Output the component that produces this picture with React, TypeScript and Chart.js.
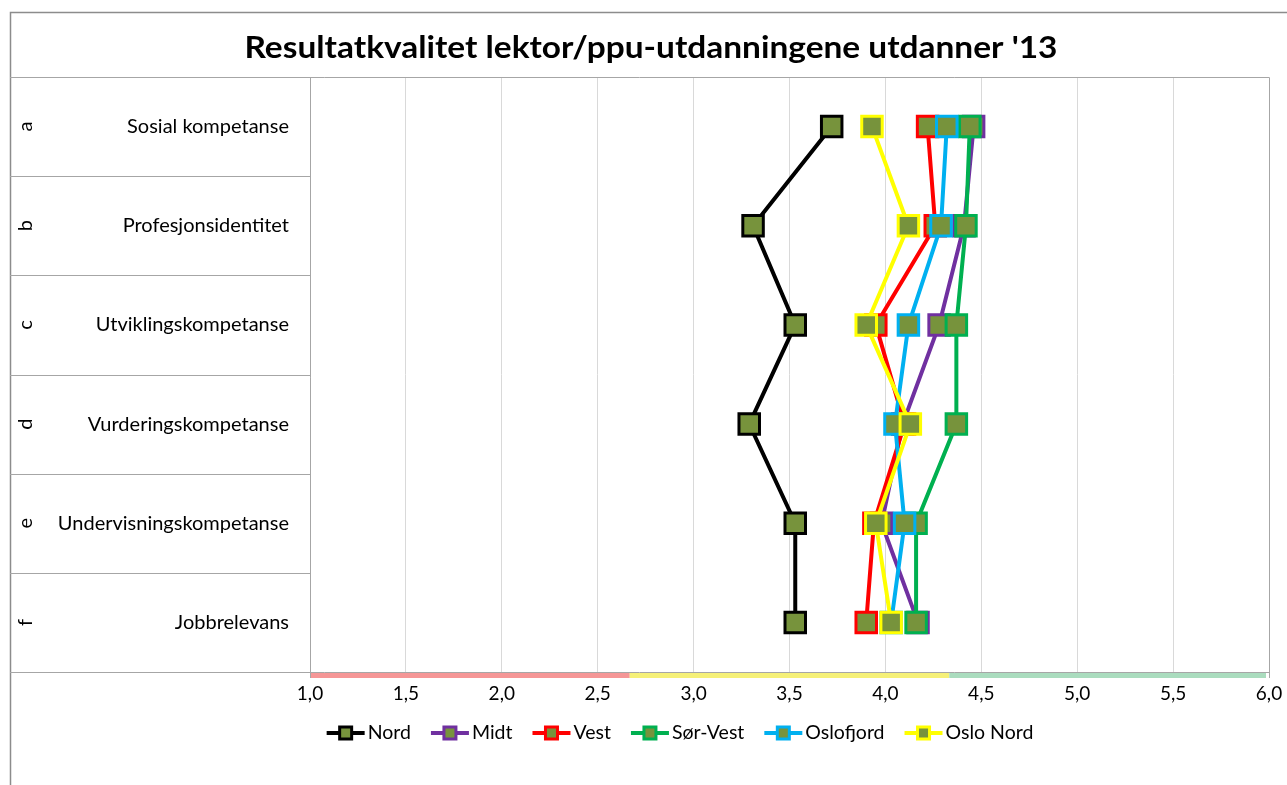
import React, { useEffect, useRef } from "react";
import { Chart, registerables } from "chart.js";

Chart.register(...registerables);

const chartTitle = "Resultatkvalitet lektor/ppu-utdanningene utdanner '13";
const categories = [
  "Sosial kompetanse",
  "Profesjonsidentitet",
  "Utviklingskompetanse",
  "Vurderingskompetanse",
  "Undervisningskompetanse",
  "Jobbrelevans",
];
const categoryLetters = ["a", "b", "c", "d", "e", "f"];
const seriesNames = ["Nord", "Midt", "Vest", "Sør-Vest", "Oslofjord", "Oslo Nord"];
const nord = [3.72, 3.31, 3.53, 3.29, 3.53, 3.53];
const midt = [4.46, 4.41, 4.28, 4.09, 3.98, 4.17];
const vest = [4.22, 4.26, 3.95, 4.1, 3.94, 3.9];
const sorVest = [4.44, 4.42, 4.37, 4.37, 4.16, 4.16];
const oslofjord = [4.32, 4.29, 4.12, 4.05, 4.1, 4.03];
const osloNord = [3.93, 4.12, 3.9, 4.13, 3.95, 4.03];
const seriesValues = [nord, midt, vest, sorVest, oslofjord, osloNord];
const seriesColors = ["#000000", "#7030A0", "#FF0000", "#00B050", "#00B0F0", "#FFFF00"];
const markerFill = "#77933C";
const xMin = 1;
const xMax = 6;
const xStep = 0.5;
const bandEdges = [1, 2.667, 4.333, 6];
const bandColors = ["#F59696", "#F5F078", "#AADCBE"];

const FONT = "Lato, 'Open Sans', sans-serif";

const decorPlugin = {
  id: "decor",
  afterDraw(chart: any) {
    const ctx = chart.ctx as CanvasRenderingContext2D;
    const area = chart.chartArea;
    const yScale = chart.scales.y;
    const xScale = chart.scales.x;
    ctx.save();

    // outer border
    ctx.strokeStyle = "#8c8c8c";
    ctx.lineWidth = 1.5;
    ctx.beginPath();
    ctx.moveTo(10.5, 800);
    ctx.lineTo(10.5, 12.5);
    ctx.lineTo(1300, 12.5);
    ctx.stroke();

    // title
    ctx.fillStyle = "#000";
    ctx.font = `bold 31px ${FONT}`;
    ctx.textBaseline = "middle";
    ctx.textAlign = "center";
    const tw = ctx.measureText(chartTitle).width;
    const target = 813;
    ctx.save();
    ctx.translate(651, 48);
    ctx.scale(target / tw, 1);
    ctx.fillText(chartTitle, 0, 0);
    ctx.restore();

    // label-area grid + plot borders
    ctx.strokeStyle = "#a6a6a6";
    ctx.lineWidth = 1;
    const half = Math.abs(yScale.getPixelForValue(1) - yScale.getPixelForValue(0)) / 2;
    ctx.beginPath();
    for (let i = 1; i < categories.length; i++) {
      const y = Math.round(yScale.getPixelForValue(i) - half) + 0.5;
      ctx.moveTo(10, y);
      ctx.lineTo(area.left, y);
    }
    const top = Math.round(area.top) + 0.5;
    const bottom = Math.round(area.bottom) + 0.5;
    ctx.moveTo(10, top);
    ctx.lineTo(area.right, top);
    ctx.moveTo(10, bottom);
    ctx.lineTo(area.right, bottom);
    const l = Math.round(area.left) + 0.5;
    const r = Math.round(area.right) + 0.5;
    ctx.moveTo(l, top);
    ctx.lineTo(l, area.bottom + 6);
    ctx.moveTo(r, top);
    ctx.lineTo(r, area.bottom + 6);
    ctx.stroke();

    // bands
    for (let i = 0; i < bandColors.length; i++) {
      const x0 = xScale.getPixelForValue(bandEdges[i]);
      const x1 = xScale.getPixelForValue(bandEdges[i + 1]);
      ctx.fillStyle = bandColors[i];
      ctx.fillRect(x0 + (i === 0 ? 1 : 0), area.bottom + 1, x1 - x0 - (i === bandColors.length - 1 ? 3 : 0) - (i === 0 ? 1 : 0), 5);
    }

    // letters
    ctx.fillStyle = "#000";
    ctx.font = `20px ${FONT}`;
    ctx.textAlign = "center";
    ctx.textBaseline = "middle";
    categoryLetters.forEach((lt, i) => {
      const y = yScale.getPixelForValue(i);
      ctx.save();
      ctx.translate(26, y);
      ctx.rotate(-Math.PI / 2);
      ctx.fillText(lt, 0, 0);
      ctx.restore();
    });

    // legend
    const ds = chart.data.datasets;
    ctx.font = `19.5px ${FONT}`;
    const symW = 38;
    const gap = 3;
    const spacing = 20;
    const widths = ds.map((d: any) => symW + gap + ctx.measureText(d.label).width);
    const total = widths.reduce((a: number, b: number) => a + b, 0) + spacing * (ds.length - 1);
    let x = 680 - total / 2;
    const ly = 733;
    ds.forEach((d: any, i: number) => {
      ctx.strokeStyle = d.borderColor;
      ctx.lineWidth = 4;
      ctx.beginPath();
      ctx.moveTo(x, ly);
      ctx.lineTo(x + symW, ly);
      ctx.stroke();
      const cx = x + symW / 2;
      ctx.fillStyle = markerFill;
      ctx.fillRect(cx - 6, ly - 6, 12, 12);
      ctx.lineWidth = 3;
      ctx.strokeRect(cx - 6, ly - 6, 12, 12);
      ctx.fillStyle = "#000";
      ctx.textAlign = "left";
      ctx.textBaseline = "middle";
      ctx.fillText(d.label, x + symW + gap, ly);
      x += widths[i] + spacing;
    });

    ctx.restore();
  },
};

export default function App() {
  const ref = useRef<HTMLCanvasElement | null>(null);
  useEffect(() => {
    if (!ref.current) return;
    const n = seriesNames.length;
    const chart = new Chart(ref.current, {
      type: "line",
      data: {
        labels: categories,
        datasets: seriesNames.map((name, i) => ({
          label: name,
          data: seriesValues[i],
          borderColor: seriesColors[i],
          backgroundColor: seriesColors[i],
          borderWidth: 4,
          pointStyle: "rect",
          pointRadius: 14.5,
          pointHoverRadius: 14.5,
          pointBackgroundColor: markerFill,
          pointBorderColor: seriesColors[i],
          pointBorderWidth: 3,
          tension: 0,
          fill: false,
          order: n - i,
        })),
      },
      options: {
        indexAxis: "y",
        responsive: false,
        animation: false,
        layout: { padding: { top: 77, bottom: 73, left: 0, right: 18 } },
        plugins: {
          legend: { display: false },
          title: { display: false },
          tooltip: { enabled: false },
        },
        scales: {
          x: {
            type: "linear",
            min: xMin,
            max: xMax,
            ticks: {
              stepSize: xStep,
              color: "#000",
              font: { family: FONT, size: 19 },
              padding: 4,
              maxRotation: 0,
              callback: (v: any) => Number(v).toFixed(1).replace(".", ","),
            },
            grid: { color: "#d9d9d9", lineWidth: 1, tickLength: 6, drawTicks: true },
            border: { display: false },
            afterFit: (s: any) => {
              s.height = 40;
            },
          },
          y: {
            type: "category",
            offset: true,
            ticks: {
              color: "#000",
              font: { family: FONT, size: 20 },
              padding: 21,
            },
            grid: { display: false, drawTicks: false },
            border: { display: false },
            afterFit: (s: any) => {
              s.width = 310;
            },
          },
        },
      },
      plugins: [decorPlugin],
    });
    return () => chart.destroy();
  }, []);
  return (
    <div style={{ position: "absolute", left: 0, top: 0, width: 1287, height: 785, background: "#fff" }}>
      <canvas ref={ref} width={1287} height={785} style={{ width: 1287, height: 785 }} />
    </div>
  );
}
